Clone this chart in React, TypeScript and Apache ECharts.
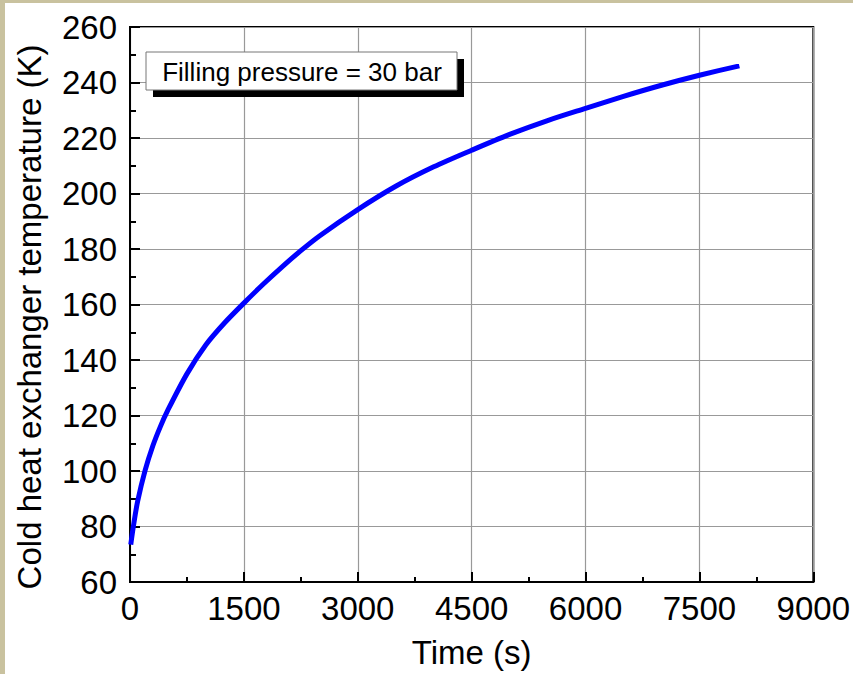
import React, { useEffect, useRef } from "react";
import * as echarts from "echarts";

const timeS = [10, 50, 100, 200, 300, 400, 500, 750, 1000, 1250, 1500, 1750, 2000, 2250, 2500, 3000, 3500, 4000, 4500, 5000, 5500, 6000, 6500, 7000, 7500, 8026];
const tempK = [73.5, 81, 89, 100.3, 109, 116, 122, 135, 145.5, 153.5, 160.5, 167.2, 173.5, 179.4, 184.8, 194.2, 202.6, 209.6, 215.6, 221.3, 226.3, 230.7, 235.0, 239.0, 242.6, 246];
const xTicks = { min: 0, max: 9000, interval: 1500 };
const yTicks = { min: 60, max: 260, interval: 20 };
const xTitle = "Time (s)";
const yTitle = "Cold heat exchanger temperature (K)";
const noteText = "Filling pressure = 30 bar";

const FONT = "'Liberation Sans', Arial, Helvetica, sans-serif";

export default function App() {
  const ref = useRef<HTMLDivElement>(null);
  useEffect(() => {
    document.body.style.margin = "0";
    const chart = echarts.init(ref.current!, null, { renderer: "svg" });
    const data = timeS.map((t, i) => [t, tempK[i]]);
    chart.setOption({
      animation: false,
      backgroundColor: "#ffffff",
      textStyle: { fontFamily: FONT },
      grid: {
        left: 130,
        right: 39,
        top: 27,
        bottom: 91,
        show: true,
        borderColor: "#000",
        borderWidth: 2,
        backgroundColor: "transparent",
      },
      xAxis: {
        type: "value",
        min: xTicks.min,
        max: xTicks.max,
        interval: xTicks.interval,
        name: xTitle,
        nameLocation: "middle",
        nameGap: 54,
        nameTextStyle: { fontSize: 33, color: "#000", fontFamily: FONT },
        axisLine: { show: true, lineStyle: { color: "#000", width: 2 } },
        axisTick: { show: true, inside: true, length: 10, lineStyle: { color: "#000", width: 2 } },
        minorTick: { show: true, splitNumber: 2, length: 5, lineStyle: { color: "#000", width: 2 } },
        axisLabel: { fontSize: 33, color: "#000", margin: 10, fontFamily: FONT, formatter: (v: number) => String(v) },
        splitLine: { show: true, lineStyle: { color: "#999", width: 1.2 } },
      },
      yAxis: {
        type: "value",
        min: yTicks.min,
        max: yTicks.max,
        interval: yTicks.interval,
        axisLine: { show: true, lineStyle: { color: "#000", width: 2 } },
        axisTick: { show: true, inside: true, length: 10, lineStyle: { color: "#000", width: 2 } },
        minorTick: { show: true, splitNumber: 2, length: 6, lineStyle: { color: "#000", width: 2 } },
        axisLabel: { fontSize: 33, color: "#000", margin: 13, fontFamily: FONT, formatter: (v: number) => String(v) },
        splitLine: { show: true, lineStyle: { color: "#999", width: 1.2 } },
      },
      graphic: [
        { type: "rect", left: 0, top: 0, shape: { width: 853, height: 3 }, style: { fill: "#c9c29f" }, z: 100 },
        { type: "rect", left: 0, top: 0, shape: { width: 5, height: 674 }, style: { fill: "#c9c29f" }, z: 100 },
        {
          type: "text",
          x: 29,
          y: 317,
          rotation: Math.PI / 2,
          z: 100,
          style: { text: yTitle, fontSize: 33, fontFamily: FONT, fill: "#000", textAlign: "center", textVerticalAlign: "middle" },
        },
        { type: "rect", x: 153, y: 59, shape: { width: 311, height: 38 }, style: { fill: "#000" }, z: 100 },
        { type: "rect", x: 146, y: 52, shape: { width: 311, height: 38 }, style: { fill: "#fff", stroke: "#777", lineWidth: 1 }, z: 101 },
        {
          type: "text",
          x: 302,
          y: 72,
          z: 102,
          style: { text: noteText, fontSize: 26, fontFamily: FONT, fill: "#000", textAlign: "center", textVerticalAlign: "middle" },
        },
      ],
      series: [
        {
          type: "line",
          data,
          smooth: 0.3,
          showSymbol: false,
          lineStyle: { color: "#0000ff", width: 5 },
          itemStyle: { color: "#0000ff" },
        },
      ],
    });
    return () => chart.dispose();
  }, []);
  return <div ref={ref} style={{ position: "absolute", left: 0, top: 0, width: 853, height: 674 }} />;
}
